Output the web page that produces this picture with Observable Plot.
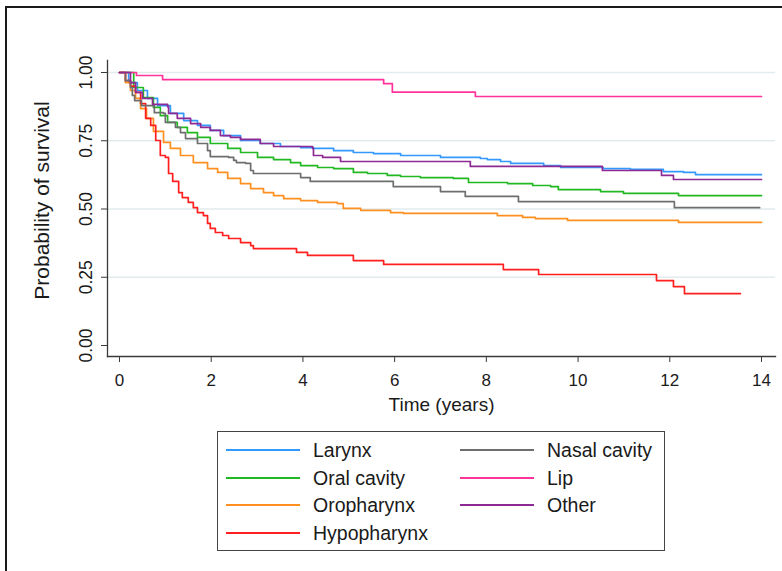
<!DOCTYPE html>
<html>
<head>
<meta charset="utf-8">
<script src="https://cdn.jsdelivr.net/npm/d3@7"></script>
<script src="https://cdn.jsdelivr.net/npm/@observablehq/plot@0.6"></script>
<style>
  html, body { margin: 0; padding: 0; background: #fff; }
  #wrap { position: relative; width: 782px; height: 571px; overflow: hidden; background: #fff;
          font-family: "Liberation Sans", Arial, sans-serif; color: #1a1a1a; }
  #frame { position: absolute; left: 5px; top: 6px; width: 800px; height: 600px;
           border-top: 2px solid #1a1a1a; border-left: 2px solid #1a1a1a; }
  #chart { position: absolute; left: 0; top: 0; }
  #legend { position: absolute; left: 217px; top: 431px; width: 448px; height: 120px;
            border: 1px solid #444; box-sizing: border-box; background: #fff; }
  .sw { position: absolute; height: 2px; width: 74px; }
  .lb { position: absolute; font-size: 19.5px; line-height: 20px; white-space: nowrap; color: #1a1a1a; }
</style>
</head>
<body>
<div id="wrap">
  <div id="frame"></div>
  <div id="chart"></div>
  <div id="legend"></div>
</div>
<script>
// ---- data ----
const series = ["Larynx", "Oral cavity", "Oropharynx", "Hypopharynx", "Nasal cavity", "Lip", "Other"];
const colors = ["#3399ff", "#22b822", "#ff8f1f", "#ff1f1f", "#6e6e6e", "#ff3399", "#8e2a94"];
const xTicks = [0, 2, 4, 6, 8, 10, 12, 14];
const yTicks = [0, 0.25, 0.5, 0.75, 1];
const gridTicks = [0.25, 0.5, 0.75, 1];

const larynx = [[0,1],[0.20,0.963],[0.39,0.934],[0.61,0.905],[0.83,0.879],[1.11,0.850],[1.40,0.824],[1.70,0.806],[1.98,0.788],[2.27,0.769],[2.64,0.751],[3.07,0.740],[3.51,0.729],[3.95,0.725],[4.23,0.722],[4.67,0.714],[5.10,0.707],[5.54,0.703],[6.13,0.696],[7.00,0.689],[7.87,0.685],[8.02,0.681],[8.31,0.674],[8.53,0.667],[9.25,0.659],[9.62,0.652],[10.55,0.648],[11.14,0.645],[11.86,0.637],[12.30,0.634],[12.56,0.626],[14.0,0.626]];
const oralCavity = [[0,1],[0.31,0.945],[0.52,0.908],[0.74,0.872],[0.89,0.842],[1.05,0.817],[1.26,0.799],[1.48,0.780],[1.70,0.762],[1.98,0.740],[2.36,0.722],[2.64,0.707],[3.01,0.689],[3.36,0.681],[3.73,0.670],[3.95,0.659],[4.32,0.652],[4.67,0.648],[5.10,0.634],[5.41,0.630],[5.84,0.623],[6.13,0.619],[6.56,0.615],[7.28,0.612],[7.61,0.597],[8.46,0.593],[9.01,0.586],[9.40,0.582],[9.57,0.571],[10.49,0.564],[10.99,0.557],[12.19,0.549],[14.0,0.549]];
const oropharynx = [[0,1],[0.13,0.963],[0.24,0.934],[0.35,0.905],[0.46,0.868],[0.59,0.832],[0.74,0.784],[0.96,0.744],[1.11,0.722],[1.33,0.696],[1.61,0.670],[1.92,0.648],[2.14,0.634],[2.36,0.612],[2.64,0.593],[2.86,0.575],[3.14,0.560],[3.36,0.549],[3.58,0.538],[3.95,0.531],[4.32,0.524],[4.75,0.520],[4.88,0.502],[5.26,0.495],[5.91,0.487],[6.19,0.484],[8.24,0.476],[8.79,0.469],[9.07,0.465],[9.77,0.458],[12.19,0.451],[14.0,0.451]];
const hypopharynx = [[0,1],[0.13,0.970],[0.24,0.950],[0.35,0.927],[0.46,0.886],[0.57,0.832],[0.68,0.806],[0.79,0.751],[0.89,0.696],[1.00,0.689],[1.07,0.630],[1.16,0.601],[1.29,0.560],[1.37,0.542],[1.50,0.524],[1.61,0.505],[1.70,0.487],[1.83,0.476],[1.92,0.447],[1.98,0.429],[2.09,0.414],[2.25,0.403],[2.38,0.392],[2.64,0.377],[2.86,0.366],[2.92,0.355],[3.86,0.341],[4.10,0.330],[5.10,0.311],[5.76,0.297],[8.37,0.278],[9.14,0.260],[11.71,0.238],[12.08,0.216],[12.32,0.190],[13.54,0.190]];
const nasalCavity = [[0,1],[0.13,0.970],[0.24,0.945],[0.28,0.916],[0.33,0.897],[0.48,0.879],[0.76,0.853],[0.96,0.850],[1.00,0.817],[1.22,0.799],[1.33,0.780],[1.44,0.758],[1.70,0.740],[1.92,0.714],[1.98,0.692],[2.38,0.689],[2.49,0.678],[2.55,0.670],[2.75,0.667],[2.86,0.641],[2.92,0.630],[3.95,0.615],[4.16,0.601],[5.97,0.582],[7.00,0.564],[7.54,0.546],[8.70,0.527],[12.10,0.505],[13.96,0.505]];
const lip = [[0,1],[0.37,0.989],[0.94,0.974],[5.76,0.959],[5.95,0.928],[7.76,0.912],[14.0,0.912]];
const other = [[0,1],[0.24,0.963],[0.35,0.927],[0.50,0.905],[0.72,0.883],[1.05,0.875],[1.07,0.850],[1.26,0.832],[1.55,0.813],[1.77,0.799],[1.98,0.788],[2.20,0.769],[2.42,0.762],[2.64,0.755],[3.07,0.740],[3.36,0.729],[4.21,0.722],[4.23,0.696],[4.43,0.689],[4.82,0.674],[7.65,0.656],[10.53,0.641],[11.82,0.623],[12.08,0.608],[14.0,0.608]];

const curves = [larynx, oralCavity, oropharynx, hypopharynx, nasalCavity, lip, other];
const rows = series.flatMap((s, i) => curves[i].map(([t, p]) => ({t, p, s})));

const font = "'Liberation Sans', Arial, sans-serif";

const chart = Plot.plot({
  width: 782,
  height: 430,
  marginLeft: 107,
  marginRight: 7,
  marginTop: 60,
  marginBottom: 74,
  style: {fontFamily: font, color: "#1a1a1a", background: "transparent", overflow: "visible"},
  x: {domain: [0, 14], insetLeft: 12, insetRight: 14},
  y: {domain: [0, 1], insetTop: 12, insetBottom: 11},
  color: {domain: series, range: colors},
  marks: [
    Plot.gridY(gridTicks, {stroke: "#e2ebee", strokeOpacity: 1, strokeWidth: 1.5}),
    Plot.frame({anchor: "left", stroke: "#3a3a3a", strokeWidth: 1.3}),
    Plot.frame({anchor: "bottom", stroke: "#3a3a3a", strokeWidth: 1.3}),
    Plot.axisX({ticks: xTicks, tickSize: 6, tickPadding: 11, fontSize: 17, label: null, stroke: "#3a3a3a"}),
    Plot.axisY({ticks: yTicks, tickFormat: d3.format(".2f"), tickRotate: -90, tickSize: 6, tickPadding: 10, fontSize: 17.5, label: null, stroke: "#3a3a3a"}),
    Plot.text(["Time (years)"], {frameAnchor: "bottom", dy: 54, fontSize: 19, fill: "#1a1a1a"}),
    Plot.text(["Probability of survival"], {frameAnchor: "left", dx: -65, dy: -8, rotate: -90, textAnchor: "middle", fontSize: 21, fill: "#1a1a1a"}),
    Plot.line(rows, {x: "t", y: "p", z: "s", stroke: "s", curve: "step-after", strokeWidth: 1.7})
  ]
});
document.getElementById("chart").appendChild(chart);

// ---- legend (two columns, column-major like the reference) ----
const legend = document.getElementById("legend");
const perCol = 4;
series.forEach((s, i) => {
  const col = Math.floor(i / perCol), row = i % perCol;
  const cy = 18 + row * 27.7;
  const sw = document.createElement("div");
  sw.className = "sw";
  sw.style.left = (8 + col * 234) + "px";
  sw.style.top = (cy - 1) + "px";
  sw.style.background = colors[i];
  legend.appendChild(sw);
  const lb = document.createElement("div");
  lb.className = "lb";
  lb.textContent = s;
  lb.style.left = (95 + col * 234) + "px";
  lb.style.top = (cy - 10) + "px";
  legend.appendChild(lb);
});
</script>
</body>
</html>
